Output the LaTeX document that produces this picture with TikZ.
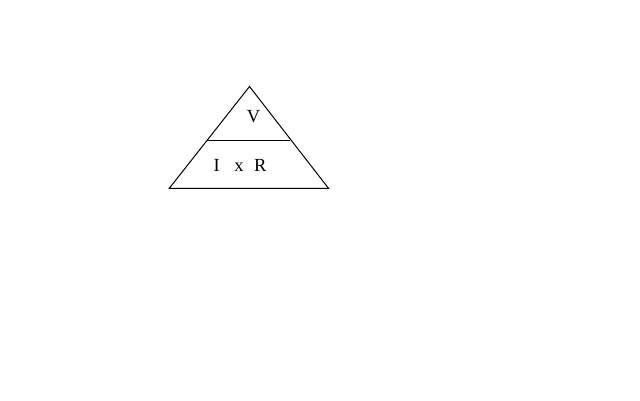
\documentclass[tikz,border=0pt]{standalone}
\usepackage{fontspec}
\setmainfont{Liberation Serif}
\begin{document}
\begin{tikzpicture}[x=1pt,y=-1pt,
  edge/.style={draw=black,line width=1pt},
  lbl/.style={inner sep=0pt,font=\fontsize{18.5}{18.5}\selectfont}]
\useasboundingbox (0,0) rectangle (640,400);
\fill[white] (0,0) rectangle (640,400);
\coordinate (top) at (249.5,86.5);
\coordinate (bl) at (169.3,188.3);
\coordinate (br) at (328.5,188.3);
\coordinate (ml) at (207.3,140.5);
\coordinate (mr) at (290.3,140.5);
\draw[edge,line join=miter] (top) -- (br) -- (bl) -- cycle;
\draw[edge] (ml) -- (mr);
\node[lbl] (v) at (253.5,117) {V};
\node[lbl] (ixr) at (240,165.5) {I\hspace{14.5pt}x\hspace{10.5pt}R};
\end{tikzpicture}
\end{document}
